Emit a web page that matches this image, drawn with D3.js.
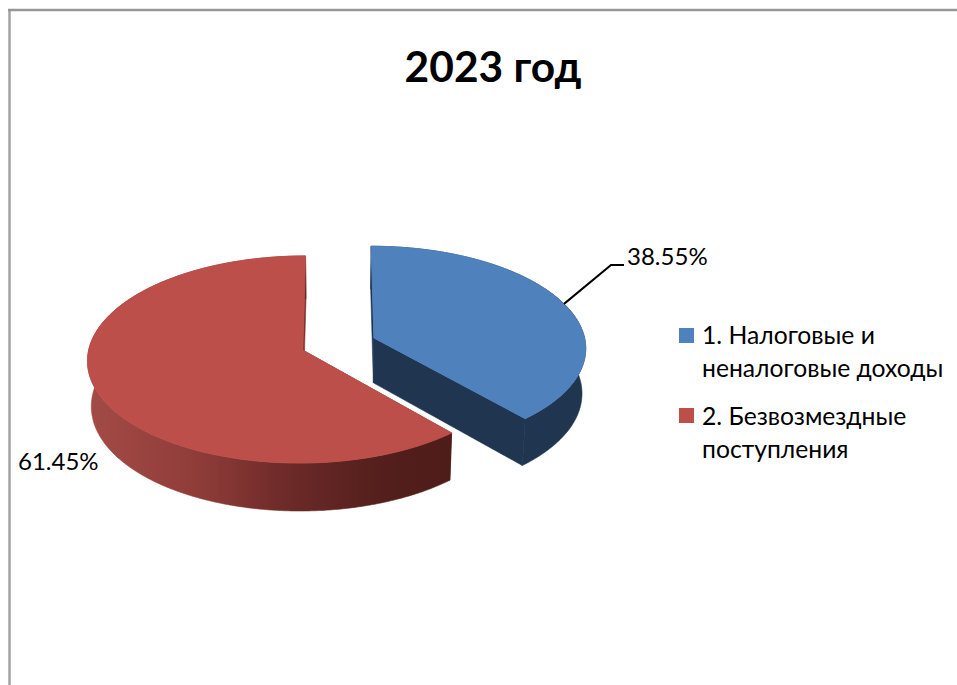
<!DOCTYPE html>
<html>
<head>
<meta charset="utf-8">
<script src="https://d3js.org/d3.v7.min.js"></script>
<style>
  body { margin: 0; background: #fff; }
  text { font-family: Lato, "Open Sans", sans-serif; fill: #000; }
</style>
</head>
<body>
<svg id="chart" width="957" height="685"></svg>
<script>
const title = "2023 год";
const categories = ["1. Налоговые и неналоговые доходы", "2. Безвозмездные поступления"];
const legendLines = [["1. Налоговые и", "неналоговые доходы"], ["2. Безвозмездные", "поступления"]];
const values = [38.55, 61.45];
const topColors = ["#4f81bd", "#bd4f4b"];
const wallColors = ["#1f3550", "url(#redWall)"];

const svg = d3.select("#chart");
const width = 957, height = 685;

// chart frame, only left and top are in the picture
svg.append("line").attr("x1", 9.5).attr("x2", 9.5).attr("y1", 9).attr("y2", height)
  .attr("stroke", "#a3a3a3").attr("stroke-width", 2.5);
svg.append("line").attr("x1", 8).attr("x2", width).attr("y1", 10).attr("y2", 10)
  .attr("stroke", "#969696").attr("stroke-width", 2.5);

svg.append("text").text(title)
  .attr("x", 493).attr("y", 82)
  .attr("text-anchor", "middle")
  .attr("font-size", 42.5).attr("font-weight", 700);

const defs = svg.append("defs");
const gradient = defs.append("linearGradient")
  .attr("id", "redWall")
  .attr("gradientUnits", "userSpaceOnUse")
  .attr("x1", 91).attr("x2", 450).attr("y1", 0).attr("y2", 0);
[[0, "#a34a46"], [0.3, "#8f3c39"], [0.55, "#6c2a28"], [0.8, "#541f1c"], [1, "#4e1c19"]].forEach((stop) => {
  gradient.append("stop").attr("offset", stop[0]).attr("stop-color", stop[1]);
});

const color = d3.scaleOrdinal().domain(categories).range(topColors);
const wall = d3.scaleOrdinal().domain(categories).range(wallColors);

const slices = d3.pie().sort(null).value((d) => d.value)(
  categories.map((c, i) => ({ name: c, value: values[i] }))
);

// tilted circle with a bit of perspective
const cx = 338.5, cy = 344;
const radius = 215, flat = 102.6, persp = 0.0915, explode = 0.167;
const depthShrink = 0.985, depthGrow = 1.025, depth = 45;
// small per slice corrections for the way the original 3d view is skewed
const sliceScale = [0.985, 0.99];
const sliceShift = [2, -2];

function project(u, v, dx) {
  const w = 1 - persp * v;
  return [cx + dx + radius * u / w, cy + flat * v / w];
}
function lower(p) {
  return [cx + (p[0] - cx) * depthShrink, cy + (p[1] - cy) * depthGrow + depth];
}
function sliceCenter(s) {
  const mid = (s.startAngle + s.endAngle) / 2;
  return [explode * Math.sin(mid), -explode * Math.cos(mid)];
}
function rim(s, angle) {
  const c = sliceCenter(s);
  const r = sliceScale[s.index];
  return project(c[0] + r * Math.sin(angle), c[1] - r * Math.cos(angle), sliceShift[s.index]);
}

const polygon = d3.line().curve(d3.curveLinearClosed);
const g = svg.append("g");

// red first, the blue one sits behind it only by a gap
slices.slice().reverse().forEach((s) => {
  const angles = d3.range(s.startAngle, s.endAngle, 0.01).concat([s.endAngle]);
  const edge = angles.map((a) => rim(s, a));
  const apex = project(sliceCenter(s)[0], sliceCenter(s)[1], sliceShift[s.index]);
  const name = s.data.name;
  const face = wall(name);

  // the two cut faces
  [s.startAngle, s.endAngle].forEach((a) => {
    const p = rim(s, a);
    const fill = s.index === 0 ? face : "#7d3431";
    g.append("path")
      .attr("d", polygon([apex, p, lower(p), lower(apex)]))
      .attr("fill", fill).attr("stroke", fill).attr("stroke-width", 0.6);
  });
  // outer wall
  g.append("path")
    .attr("d", polygon(edge.concat(edge.map(lower).reverse())))
    .attr("fill", face).attr("stroke", face).attr("stroke-width", 0.6);
  // top face, stroked so the wall does not show round its edge
  g.append("path")
    .attr("d", polygon([apex].concat(edge)))
    .attr("fill", color(name)).attr("stroke", color(name)).attr("stroke-width", 1);
});

// data labels
const labelFont = 24;
const blue = slices[0];
const start = rim(blue, (blue.startAngle + blue.endAngle) / 2);
svg.append("path")
  .attr("d", d3.line()([start, [start[0] + 47, start[1] - 39], [start[0] + 60, start[1] - 39]]))
  .attr("fill", "none").attr("stroke", "#000").attr("stroke-width", 2);
svg.append("text").text(values[0].toFixed(2) + "%")
  .attr("x", start[0] + 63).attr("y", 265).attr("font-size", labelFont);
svg.append("text").text(values[1].toFixed(2) + "%")
  .attr("x", 18).attr("y", 470).attr("font-size", labelFont);

// legend
const legendX = 679, swatch = 15;
const legendTop = [328, 408];
categories.forEach((c, i) => {
  svg.append("rect")
    .attr("x", legendX).attr("y", legendTop[i])
    .attr("width", swatch).attr("height", swatch)
    .attr("fill", color(c));
  legendLines[i].forEach((line, j) => {
    svg.append("text").text(line)
      .attr("x", legendX + 23)
      .attr("y", legendTop[i] + 16 + (i === 1 ? 1 : 0) + j * 33)
      .attr("font-size", 24.7);
  });
});
</script>
</body>
</html>
